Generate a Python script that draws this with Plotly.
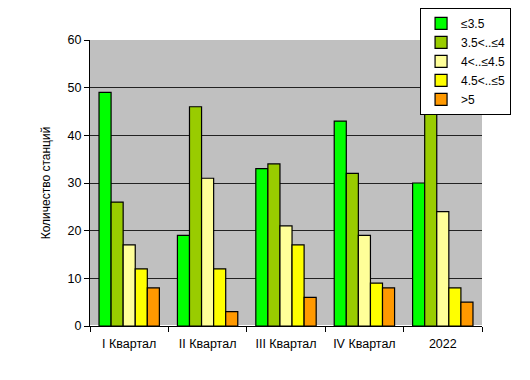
import plotly.graph_objects as go

categories = ["I Квартал", "II Квартал", "III Квартал", "IV Квартал", "2022"]
series_names = ["≤3.5", "3.5<..≤4", "4<..≤4.5", "4.5<..≤5", ">5"]
s1 = [49, 19, 33, 43, 30]
s2 = [26, 46, 34, 32, 45]
s3 = [17, 31, 21, 19, 24]
s4 = [12, 12, 17, 9, 8]
s5 = [8, 3, 6, 8, 5]
series_values = [s1, s2, s3, s4, s5]
colors = ["#00FF00", "#99CC00", "#FFFF99", "#FFFF00", "#FF9900"]
y_ticks = [0, 10, 20, 30, 40, 50, 60]

fig = go.Figure()
for name, vals, col in zip(series_names, series_values, colors):
    fig.add_trace(go.Bar(x=categories, y=vals, name=name,
                         marker=dict(color=col, line=dict(color="#000000", width=1.2))))

fig.update_layout(
    width=522, height=372,
    margin=dict(l=82, r=48, t=32, b=54, autoexpand=False),
    paper_bgcolor="white", plot_bgcolor="#C0C0C0",
    barmode="group", bargap=0.23, bargroupgap=0,
    font=dict(family="Liberation Sans, Arial, sans-serif", size=12, color="#000"),
    legend=dict(x=0.842, y=1.112, xanchor="left", yanchor="top",
                bgcolor="white", bordercolor="#000", borderwidth=1,
                font=dict(size=12), tracegroupgap=0, itemwidth=30),
    showlegend=True,
)
fig.update_xaxes(tickson="boundaries", ticks="outside", ticklen=5, tickcolor="#000",
                 ticklabelstandoff=6, tickfont=dict(size=12.5),
                 showline=True, linecolor="#000", linewidth=1, showgrid=False)
fig.update_yaxes(range=[0, 60], tickvals=y_ticks, ticks="outside", ticklen=5, tickcolor="#000",
                 tickfont=dict(size=12.5),
                 showline=True, linecolor="#000", linewidth=1,
                 showgrid=True, gridcolor="#222", gridwidth=1,
                 title=dict(text="Количество станций", font=dict(size=12), standoff=14))

fig.write_html("out.html")
